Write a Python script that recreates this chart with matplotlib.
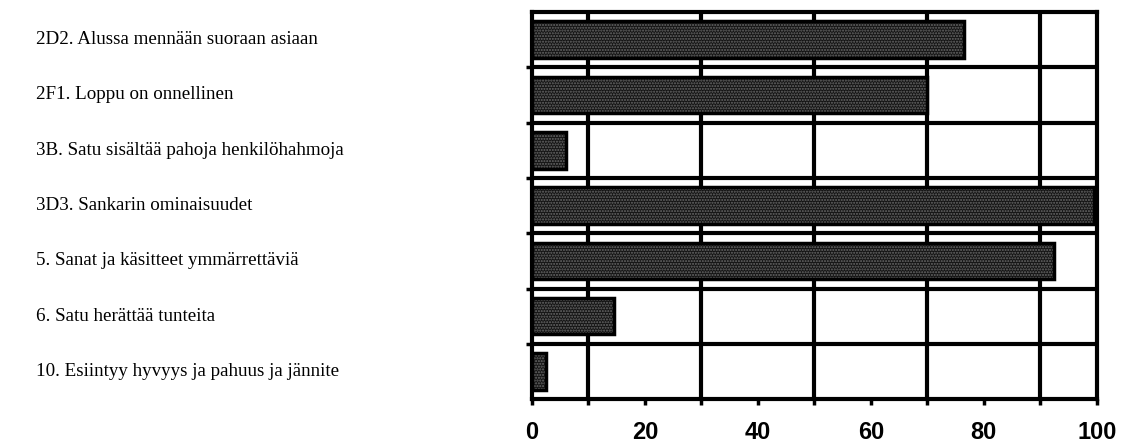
import matplotlib
matplotlib.use("Agg")
import matplotlib.pyplot as plt
from matplotlib.transforms import blended_transform_factory

labels = [
    "2D2. Alussa mennään suoraan asiaan",
    "2F1. Loppu on onnellinen",
    "3B. Satu sisältää pahoja henkilöhahmoja",
    "3D3. Sankarin ominaisuudet",
    "5. Sanat ja käsitteet ymmärrettäviä",
    "6. Satu herättää tunteita",
    "10. Esiintyy hyvyys ja pahuus ja jännite",
]
values = [76.5, 70, 6, 99.5, 92.5, 14.5, 2.5]
xticks = [0, 20, 40, 60, 80, 100]

fig = plt.figure(figsize=(11.22, 4.44), dpi=100)
ax = fig.add_axes([0.474, 0.101, 0.5036, 0.872])

rows = list(range(len(labels)))

# stippled fill, then black outline on top
ax.barh(rows, values, height=0.66, color="#141414", edgecolor="#6a6a6a",
        hatch="......", linewidth=0, zorder=3)
ax.barh(rows, values, height=0.66, fill=False, edgecolor="black",
        linewidth=2.5, zorder=4)

ax.set_xlim(0, 100)
ax.set_ylim(len(labels) - 0.5, -0.5)

ax.set_xticks(xticks)
ax.set_xticks(range(0, 101, 10), minor=True)
ax.set_xticklabels([str(t) for t in xticks], fontsize=17, fontweight="bold",
                   family="Liberation Sans")
ax.set_yticks([])
ax.set_yticks([r + 0.5 for r in rows[:-1]], minor=True)

ax.grid(True, which="minor", color="black", linewidth=3, zorder=1)
ax.set_axisbelow(True)
ax.tick_params(axis="x", which="both", direction="out", length=4, width=2.5, pad=12)
ax.tick_params(axis="y", which="minor", direction="out", length=4, width=2.5,
               labelleft=False)

for s in ax.spines.values():
    s.set_linewidth(3)

trans = blended_transform_factory(ax.transAxes, ax.transData)
for r, lab in zip(rows, labels):
    ax.text(-0.878, r, lab, transform=trans, ha="left", va="center",
            fontsize=13.7, family="Liberation Serif")

fig.savefig("out.png", dpi=100)
